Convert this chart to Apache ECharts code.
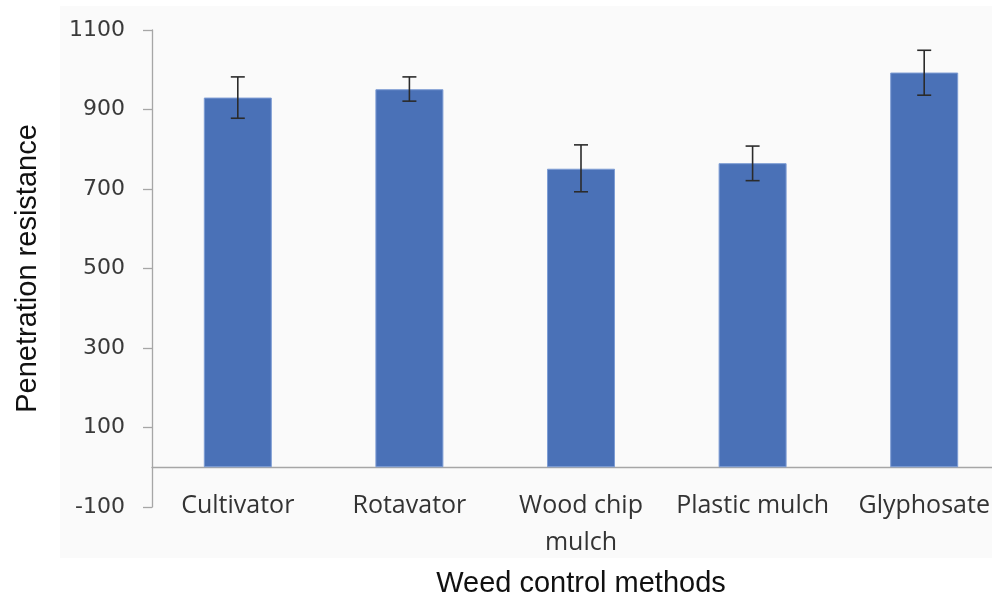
<!DOCTYPE html>
<html>
<head>
<meta charset="utf-8">
<script src="https://cdn.jsdelivr.net/npm/echarts@6/dist/echarts.min.js"></script>
<style>
html,body{margin:0;padding:0;background:#ffffff;}
#chart{width:992px;height:597px;}
</style>
</head>
<body>
<div id="chart"></div>
<script>
const categories = ['Cultivator', 'Rotavator', 'Wood chip\nmulch', 'Plastic mulch', 'Glyphosate'];
const means = [930, 951, 751, 765, 993];
const errLow = [878, 921, 693, 721, 936];
const errHigh = [982, 982, 811, 808, 1049];
const yTicks = [-100, 100, 300, 500, 700, 900, 1100];

const chart = echarts.init(document.getElementById('chart'), null, {renderer: 'canvas'});

const errData = categories.map((c, i) => [i, errLow[i], errHigh[i]]);

const option = {
  backgroundColor: '#ffffff',
  animation: false,
  graphic: [{
    type: 'rect',
    silent: true,
    z: -10,
    shape: {x: 60, y: 6, width: 940, height: 552},
    style: {fill: '#fafafa'}
  }],
  grid: {left: 152, top: 30, width: 858, height: 477, containLabel: false, outerBoundsMode: 'none'},
  xAxis: {
    type: 'category',
    data: categories,
    name: 'Weed control methods',
    nameLocation: 'middle',
    nameGap: 62,
    nameTextStyle: {fontFamily: 'Liberation Sans, Arial, sans-serif', fontSize: 29, color: '#111111'},
    axisLine: {onZero: true, lineStyle: {color: '#a6a6a6', width: 1.3}},
    axisTick: {show: false},
    axisLabel: {
      interval: 0,
      margin: -20,
      fontFamily: 'Open Sans, sans-serif',
      fontSize: 25,
      lineHeight: 37,
      color: '#333333'
    },
    splitLine: {show: false}
  },
  yAxis: {
    type: 'value',
    min: -100,
    max: 1100,
    name: 'Penetration resistance',
    nameLocation: 'middle',
    nameGap: 110,
    nameTextStyle: {fontFamily: 'Liberation Sans, Arial, sans-serif', fontSize: 29, color: '#111111'},
    axisLine: {show: true, onZero: false, lineStyle: {color: '#a6a6a6', width: 1.3}},
    axisTick: {show: true, inside: false, length: 9, customValues: yTicks, lineStyle: {color: '#a6a6a6', width: 1.3}},
    axisLabel: {
      customValues: yTicks,
      margin: 27,
      fontFamily: 'DejaVu Sans, sans-serif',
      fontSize: 22,
      color: '#3a3a3a',
      formatter: function (v) { return String(v); }
    },
    splitLine: {show: false}
  },
  series: [
    {
      type: 'bar',
      data: means,
      barWidth: 68,
      itemStyle: {color: '#4a71b7', borderColor: '#7e9dd4', borderWidth: 1}
    },
    {
      type: 'custom',
      data: errData,
      z: 10,
      renderItem: function (params, api) {
        const x = api.value(0);
        const lo = api.coord([x, api.value(1)]);
        const hi = api.coord([x, api.value(2)]);
        const hw = 7;
        const style = {stroke: '#2b2b2b', lineWidth: 1.6};
        return {
          type: 'group',
          children: [
            {type: 'line', shape: {x1: hi[0], y1: hi[1], x2: lo[0], y2: lo[1]}, style: style},
            {type: 'line', shape: {x1: hi[0] - hw, y1: hi[1], x2: hi[0] + hw, y2: hi[1]}, style: style},
            {type: 'line', shape: {x1: lo[0] - hw, y1: lo[1], x2: lo[0] + hw, y2: lo[1]}, style: style}
          ]
        };
      }
    }
  ]
};
chart.setOption(option);
</script>
</body>
</html>
